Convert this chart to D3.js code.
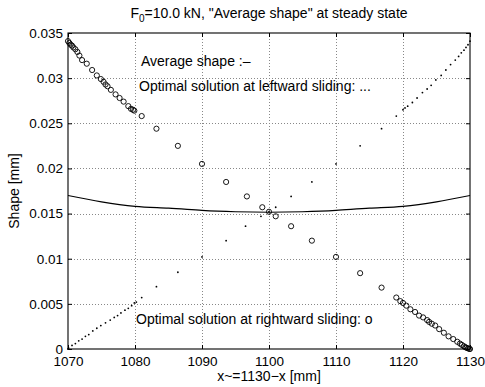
<!DOCTYPE html>
<html>
<head>
<meta charset="utf-8">
<script src="https://cdn.jsdelivr.net/npm/d3@7"></script>
<style>
  body { margin: 0; background: #fff; }
  svg { display: block; font-family: "Liberation Sans", Arial, sans-serif; }
</style>
</head>
<body>
<div id="chart"></div>
<script>
// rightward sliding optimum (circles)
const rightX = [1070.0, 1070.2, 1070.4, 1070.6, 1070.8, 1071.1, 1071.4, 1071.7, 1072.1, 1072.8,
  1073.6, 1074.3, 1074.9, 1075.3, 1075.6, 1075.9, 1076.4, 1077.1, 1077.7, 1078.3,
  1079.0, 1079.4, 1079.7, 1079.9, 1081.0, 1083.2, 1086.4, 1090.0, 1093.6, 1096.7,
  1099.0, 1100.0, 1101.0, 1103.3, 1106.4, 1110.0, 1113.6, 1116.8, 1119.0, 1119.6,
  1120.0, 1120.5, 1121.1, 1121.8, 1122.4, 1123.0, 1123.6, 1123.9, 1124.3, 1124.8,
  1125.4, 1126.1, 1126.8, 1127.5, 1128.1, 1128.5, 1128.8, 1129.1, 1129.3, 1129.5,
  1129.7, 1129.9, 1130.0];
const rightY = [0.0341, 0.0339, 0.0337, 0.0336, 0.0334, 0.0332, 0.0329, 0.0325, 0.0320, 0.0316,
  0.0309, 0.0303, 0.0299, 0.0296, 0.0293, 0.0291, 0.0287, 0.0282, 0.0278, 0.0274,
  0.0269, 0.0266, 0.0265, 0.0264, 0.0258, 0.0244, 0.0225, 0.0205, 0.0185, 0.0169,
  0.0157, 0.0152, 0.0147, 0.0136, 0.0120, 0.0102, 0.0084, 0.0068, 0.0057, 0.0053,
  0.0051, 0.0048, 0.0044, 0.0041, 0.0037, 0.0035, 0.0032, 0.0030, 0.0028, 0.0026,
  0.0022, 0.0018, 0.0014, 0.0011, 0.0008, 0.0006, 0.00045, 0.0003, 0.0002, 0.00013,
  0.00007, 0.00002, 0];

// leftward sliding optimum (dots)
const leftX = [1070.0, 1070.1, 1070.6, 1071.1, 1071.6, 1072.1, 1072.6, 1073.1, 1073.7, 1074.3,
  1074.9, 1075.6, 1076.3, 1076.9, 1077.4, 1077.9, 1078.5, 1079.0, 1079.5, 1079.9,
  1080.2, 1081.0, 1083.2, 1086.4, 1090.0, 1093.6, 1096.5, 1098.8, 1100.0, 1101.0,
  1103.3, 1106.4, 1110.0, 1113.6, 1116.8, 1119.0, 1120.0, 1120.3, 1120.7, 1121.4,
  1122.1, 1122.9, 1123.6, 1124.2, 1124.9, 1125.7, 1126.4, 1127.1, 1127.8, 1128.3,
  1128.7, 1129.1, 1129.4, 1129.7, 1130.0];
const leftY = [0, 0.0001, 0.0004, 0.0006, 0.0009, 0.0011, 0.0014, 0.0016, 0.0020, 0.0023,
  0.0026, 0.0029, 0.0032, 0.0035, 0.0037, 0.0040, 0.0043, 0.0045, 0.0048, 0.0051,
  0.0052, 0.0057, 0.0069, 0.0085, 0.0102, 0.0120, 0.0136, 0.0147, 0.0152, 0.0157,
  0.0169, 0.0185, 0.0205, 0.0225, 0.0244, 0.0258, 0.0265, 0.0267, 0.0269, 0.0273,
  0.0278, 0.0284, 0.0288, 0.0292, 0.0298, 0.0303, 0.0309, 0.0315, 0.0320, 0.0324,
  0.0328, 0.0331, 0.0334, 0.0337, 0.0341];

// average shape (solid line)
const avgX = [1070, 1075, 1080, 1085, 1090, 1095, 1100, 1105, 1110, 1115, 1120, 1125, 1130];
const avgY = [0.0170, 0.0163, 0.0158, 0.0156, 0.01535, 0.0152, 0.01515, 0.0152, 0.01535, 0.0156, 0.0158, 0.0163, 0.0170];

const xTicks = [1070, 1080, 1090, 1100, 1110, 1120, 1130];
const yTicks = [0, 0.005, 0.01, 0.015, 0.02, 0.025, 0.03, 0.035];
const yTickLabels = ["0", "0.005", "0.01", "0.015", "0.02", "0.025", "0.03", "0.035"];

const config = {
  width: 485,
  height: 387,
  margin: {top: 33, left: 68, right: 15, bottom: 38},
  fontSize: 14,
  tickFontSize: 13.5,
  tick: 4
};

const W = config.width, H = config.height, m = config.margin;
const x = d3.scaleLinear([1070, 1130], [m.left, W - m.right]);
const y = d3.scaleLinear([0, 0.035], [H - m.bottom, m.top]);

const svg = d3.select("#chart").append("svg")
  .attr("width", W)
  .attr("height", H)
  .attr("viewBox", [0, 0, W, H]);

// dotted grid
const grid = svg.append("g")
  .attr("stroke", "#888")
  .attr("stroke-width", 1)
  .attr("stroke-dasharray", "1,2")
  .attr("shape-rendering", "crispEdges");
grid.selectAll("line.gx").data(xTicks.slice(1, -1)).join("line")
  .attr("x1", d => Math.round(x(d)) + 0.5).attr("x2", d => Math.round(x(d)) + 0.5)
  .attr("y1", y(0)).attr("y2", y(0.035));
grid.selectAll("line.gy").data(yTicks.slice(1, -1)).join("line")
  .attr("y1", d => Math.round(y(d)) + 0.5).attr("y2", d => Math.round(y(d)) + 0.5)
  .attr("x1", x(1070)).attr("x2", x(1130));

// axes, ticks pointing inwards like matlab
const styleAxis = g => {
  g.attr("font-size", config.tickFontSize).attr("font-family", "Liberation Sans, Arial, sans-serif");
  g.select(".domain").remove();
  g.selectAll(".tick line").attr("stroke", "#000");
  g.selectAll(".tick text").attr("fill", "#000");
};

svg.append("g")
  .attr("transform", `translate(0,${y(0)})`)
  .call(d3.axisBottom(x).tickValues(xTicks).tickFormat(d3.format("d")).tickSizeInner(-config.tick).tickSizeOuter(0).tickPadding(7))
  .call(styleAxis);

svg.append("g")
  .attr("transform", `translate(0,${y(0.035)})`)
  .call(d3.axisTop(x).tickValues(xTicks).tickFormat("").tickSizeInner(-config.tick).tickSizeOuter(0))
  .call(styleAxis);

svg.append("g")
  .attr("transform", `translate(${x(1070)},0)`)
  .call(d3.axisLeft(y).tickValues(yTicks).tickFormat((d, i) => yTickLabels[i]).tickSizeInner(-config.tick).tickSizeOuter(0).tickPadding(5))
  .call(styleAxis);

svg.append("g")
  .attr("transform", `translate(${x(1130)},0)`)
  .call(d3.axisRight(y).tickValues(yTicks).tickFormat("").tickSizeInner(-config.tick).tickSizeOuter(0))
  .call(styleAxis);

// frame
svg.append("rect")
  .attr("x", x(1070)).attr("y", y(0.035))
  .attr("width", x(1130) - x(1070)).attr("height", y(0) - y(0.035))
  .attr("fill", "none").attr("stroke", "#000").attr("stroke-width", 1.1);

// average shape line
const line = d3.line()
  .x(i => x(avgX[i]))
  .y(i => y(avgY[i]))
  .curve(d3.curveNatural);
svg.append("path")
  .attr("d", line(d3.range(avgX.length)))
  .attr("fill", "none")
  .attr("stroke", "#000")
  .attr("stroke-width", 1.1);

// leftward dots
svg.append("g")
  .selectAll("circle")
  .data(d3.range(leftX.length))
  .join("circle")
  .attr("cx", i => x(leftX[i]))
  .attr("cy", i => y(leftY[i]))
  .attr("r", 0.9)
  .attr("fill", "#000");

// rightward circles
svg.append("g")
  .attr("fill", "none")
  .attr("stroke", "#000")
  .attr("stroke-width", 0.9)
  .selectAll("circle")
  .data(d3.range(rightX.length))
  .join("circle")
  .attr("cx", i => x(rightX[i]))
  .attr("cy", i => y(rightY[i]))
  .attr("r", 2.6);

// title
const title = svg.append("text")
  .attr("x", (x(1070) + x(1130)) / 2)
  .attr("y", 18)
  .attr("text-anchor", "middle")
  .attr("font-size", config.fontSize);
title.append("tspan").text("F");
title.append("tspan").attr("font-size", 10).attr("dy", 4).text("0");
title.append("tspan").attr("dy", -4).text("=10.0 kN, \"Average shape\" at steady state");

// axis labels
svg.append("text")
  .attr("x", (x(1070) + x(1130)) / 2)
  .attr("y", 381)
  .attr("text-anchor", "middle")
  .attr("font-size", config.fontSize)
  .text("x~=1130\u2212x [mm]");

svg.append("text")
  .attr("transform", `translate(19,${(y(0) + y(0.035)) / 2}) rotate(-90)`)
  .attr("text-anchor", "middle")
  .attr("font-size", config.fontSize)
  .text("Shape [mm]");

// in-plot legend texts
const notes = [
  {text: "Average shape :\u2013", x: 141, y: 66},
  {text: "Optimal solution at leftward sliding: ...", x: 139, y: 91},
  {text: "Optimal solution at rightward sliding: o", x: 136, y: 324}
];
svg.append("g")
  .attr("font-size", config.fontSize)
  .selectAll("text")
  .data(notes)
  .join("text")
  .attr("x", d => d.x)
  .attr("y", d => d.y)
  .text(d => d.text);
</script>
</body>
</html>
